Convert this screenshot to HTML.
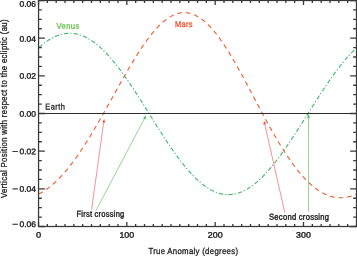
<!DOCTYPE html><html><head><meta charset="utf-8"><style>html,body{margin:0;padding:0;background:#fff;width:357px;height:256px;overflow:hidden}svg{display:block}text{font-family:"Liberation Sans", Arial, sans-serif;paint-order:stroke}</style></head><body>
<svg width="357" height="256" viewBox="0 0 357 256">
<polyline points="38.50,194.02 38.94,193.80 39.38,193.59 39.83,193.37 40.27,193.14 40.71,192.90 41.15,192.67 41.59,192.42 42.03,192.17 42.48,191.92 42.92,191.66 43.36,191.39 43.80,191.12 44.24,190.84 44.68,190.56 45.12,190.27 45.57,189.98 46.01,189.68 46.45,189.37 46.89,189.06 47.33,188.75 47.77,188.43 48.22,188.10 48.66,187.77 49.10,187.43 49.54,187.09 49.98,186.75 50.42,186.39 50.87,186.04 51.31,185.68 51.75,185.31 52.19,184.94 52.63,184.56 53.08,184.17 53.52,183.79 53.96,183.39 54.40,182.99 54.84,182.59 55.28,182.18 55.73,181.77 56.17,181.35 56.61,180.93 57.05,180.50 57.49,180.07 57.93,179.63 58.38,179.19 58.82,178.74 59.26,178.29 59.70,177.83 60.14,177.37 60.58,176.90 61.02,176.43 61.47,175.95 61.91,175.47 62.35,174.98 62.79,174.49 63.23,174.00 63.67,173.50 64.12,172.99 64.56,172.49 65.00,171.97 65.44,171.45 65.88,170.93 66.33,170.41 66.77,169.87 67.21,169.34 67.65,168.80 68.09,168.25 68.53,167.71 68.97,167.15 69.42,166.59 69.86,166.03 70.30,165.47 70.74,164.90 71.18,164.32 71.62,163.75 72.07,163.16 72.51,162.58 72.95,161.99 73.39,161.39 73.83,160.79 74.28,160.19 74.72,159.58 75.16,158.97 75.60,158.36 76.04,157.74 76.48,157.12 76.92,156.50 77.37,155.87 77.81,155.23 78.25,154.60 78.69,153.96 79.13,153.31 79.58,152.67 80.02,152.01 80.46,151.36 80.90,150.70 81.34,150.04 81.78,149.38 82.22,148.71 82.67,148.04 83.11,147.36 83.55,146.69 83.99,146.00 84.43,145.32 84.88,144.63 85.32,143.94 85.76,143.25 86.20,142.55 86.64,141.85 87.08,141.15 87.53,140.45 87.97,139.74 88.41,139.03 88.85,138.31 89.29,137.60 89.73,136.88 90.17,136.16 90.62,135.43 91.06,134.71 91.50,133.98 91.94,133.25 92.38,132.51 92.83,131.78 93.27,131.04 93.71,130.30 94.15,129.55 94.59,128.81 95.03,128.06 95.47,127.31 95.92,126.56 96.36,125.80 96.80,125.05 97.24,124.29 97.68,123.53 98.12,122.77 98.57,122.00 99.01,121.24 99.45,120.47 99.89,119.70 100.33,118.93 100.78,118.16 101.22,117.39 101.66,116.61 102.10,115.84 102.54,115.06 102.98,114.28 103.42,113.50 103.87,112.72 104.31,111.94 104.75,111.15 105.19,110.37 105.63,109.58 106.08,108.80 106.52,108.01 106.96,107.22 107.40,106.43 107.84,105.64 108.28,104.85 108.72,104.06 109.17,103.27 109.61,102.48 110.05,101.69 110.49,100.90 110.93,100.10 111.38,99.31 111.82,98.52 112.26,97.72 112.70,96.93 113.14,96.14 113.58,95.34 114.03,94.55 114.47,93.76 114.91,92.96 115.35,92.17 115.79,91.38 116.23,90.59 116.67,89.79 117.12,89.00 117.56,88.21 118.00,87.42 118.44,86.63 118.88,85.85 119.33,85.06 119.77,84.27 120.21,83.49 120.65,82.70 121.09,81.92 121.53,81.13 121.97,80.35 122.42,79.57 122.86,78.79 123.30,78.02 123.74,77.24 124.18,76.47 124.62,75.69 125.07,74.92 125.51,74.15 125.95,73.39 126.39,72.62 126.83,71.86 127.28,71.09 127.72,70.33 128.16,69.58 128.60,68.82 129.04,68.07 129.48,67.32 129.93,66.57 130.37,65.82 130.81,65.08 131.25,64.34 131.69,63.60 132.13,62.86 132.57,62.13 133.02,61.40 133.46,60.67 133.90,59.95 134.34,59.23 134.78,58.51 135.22,57.80 135.67,57.08 136.11,56.38 136.55,55.67 136.99,54.97 137.43,54.27 137.88,53.58 138.32,52.89 138.76,52.20 139.20,51.52 139.64,50.84 140.08,50.16 140.53,49.49 140.97,48.82 141.41,48.16 141.85,47.50 142.29,46.84 142.73,46.19 143.18,45.55 143.62,44.91 144.06,44.27 144.50,43.64 144.94,43.01 145.38,42.39 145.82,41.77 146.27,41.15 146.71,40.54 147.15,39.94 147.59,39.34 148.03,38.75 148.47,38.16 148.92,37.58 149.36,37.00 149.80,36.43 150.24,35.86 150.68,35.30 151.12,34.74 151.57,34.19 152.01,33.65 152.45,33.11 152.89,32.57 153.33,32.05 153.78,31.52 154.22,31.01 154.66,30.50 155.10,30.00 155.54,29.50 155.98,29.01 156.43,28.52 156.87,28.04 157.31,27.57 157.75,27.10 158.19,26.65 158.63,26.19 159.07,25.75 159.52,25.31 159.96,24.87 160.40,24.45 160.84,24.03 161.28,23.61 161.72,23.21 162.17,22.81 162.61,22.42 163.05,22.03 163.49,21.66 163.93,21.29 164.38,20.92 164.82,20.57 165.26,20.22 165.70,19.88 166.14,19.54 166.58,19.21 167.03,18.90 167.47,18.58 167.91,18.28 168.35,17.98 168.79,17.69 169.23,17.41 169.68,17.14 170.12,16.87 170.56,16.61 171.00,16.36 171.44,16.12 171.88,15.89 172.32,15.66 172.77,15.44 173.21,15.23 173.65,15.03 174.09,14.83 174.53,14.64 174.97,14.47 175.42,14.29 175.86,14.13 176.30,13.98 176.74,13.83 177.18,13.69 177.62,13.56 178.07,13.44 178.51,13.33 178.95,13.22 179.39,13.13 179.83,13.04 180.28,12.96 180.72,12.89 181.16,12.82 181.60,12.77 182.04,12.72 182.48,12.68 182.93,12.65 183.37,12.63 183.81,12.62 184.25,12.61 184.69,12.62 185.13,12.63 185.57,12.65 186.02,12.68 186.46,12.72 186.90,12.76 187.34,12.82 187.78,12.88 188.22,12.95 188.67,13.03 189.11,13.12 189.55,13.22 189.99,13.32 190.43,13.44 190.88,13.56 191.32,13.69 191.76,13.83 192.20,13.98 192.64,14.13 193.08,14.30 193.53,14.47 193.97,14.65 194.41,14.84 194.85,15.04 195.29,15.24 195.73,15.46 196.18,15.68 196.62,15.91 197.06,16.15 197.50,16.40 197.94,16.65 198.38,16.91 198.82,17.18 199.27,17.46 199.71,17.75 200.15,18.05 200.59,18.35 201.03,18.66 201.47,18.98 201.92,19.31 202.36,19.64 202.80,19.99 203.24,20.34 203.68,20.70 204.12,21.06 204.57,21.44 205.01,21.82 205.45,22.21 205.89,22.60 206.33,23.01 206.78,23.42 207.22,23.84 207.66,24.26 208.10,24.70 208.54,25.14 208.98,25.59 209.43,26.04 209.87,26.50 210.31,26.97 210.75,27.45 211.19,27.93 211.63,28.42 212.07,28.92 212.52,29.43 212.96,29.94 213.40,30.46 213.84,30.98 214.28,31.51 214.72,32.05 215.17,32.59 215.61,33.14 216.05,33.70 216.49,34.26 216.93,34.83 217.38,35.41 217.82,35.99 218.26,36.58 218.70,37.17 219.14,37.77 219.58,38.37 220.03,38.99 220.47,39.60 220.91,40.23 221.35,40.85 221.79,41.49 222.23,42.13 222.68,42.77 223.12,43.42 223.56,44.08 224.00,44.74 224.44,45.40 224.88,46.07 225.32,46.75 225.77,47.43 226.21,48.11 226.65,48.80 227.09,49.50 227.53,50.20 227.97,50.90 228.42,51.61 228.86,52.32 229.30,53.04 229.74,53.76 230.18,54.48 230.62,55.21 231.07,55.95 231.51,56.68 231.95,57.42 232.39,58.17 232.83,58.92 233.28,59.67 233.72,60.43 234.16,61.19 234.60,61.95 235.04,62.71 235.48,63.48 235.93,64.26 236.37,65.03 236.81,65.81 237.25,66.59 237.69,67.38 238.13,68.16 238.57,68.95 239.02,69.74 239.46,70.54 239.90,71.34 240.34,72.14 240.78,72.94 241.22,73.74 241.67,74.55 242.11,75.36 242.55,76.17 242.99,76.98 243.43,77.80 243.88,78.61 244.32,79.43 244.76,80.25 245.20,81.07 245.64,81.89 246.08,82.72 246.53,83.54 246.97,84.37 247.41,85.20 247.85,86.03 248.29,86.85 248.73,87.69 249.18,88.52 249.62,89.35 250.06,90.18 250.50,91.02 250.94,91.85 251.38,92.68 251.82,93.52 252.27,94.36 252.71,95.19 253.15,96.03 253.59,96.86 254.03,97.70 254.47,98.54 254.92,99.37 255.36,100.21 255.80,101.04 256.24,101.88 256.68,102.71 257.12,103.55 257.57,104.38 258.01,105.21 258.45,106.05 258.89,106.88 259.33,107.71 259.77,108.54 260.22,109.37 260.66,110.20 261.10,111.03 261.54,111.85 261.98,112.68 262.43,113.50 262.87,114.32 263.31,115.14 263.75,115.96 264.19,116.78 264.63,117.60 265.07,118.41 265.52,119.23 265.96,120.04 266.40,120.85 266.84,121.65 267.28,122.46 267.73,123.26 268.17,124.07 268.61,124.86 269.05,125.66 269.49,126.46 269.93,127.25 270.38,128.04 270.82,128.83 271.26,129.61 271.70,130.40 272.14,131.18 272.58,131.96 273.02,132.73 273.47,133.50 273.91,134.27 274.35,135.04 274.79,135.80 275.23,136.56 275.68,137.32 276.12,138.08 276.56,138.83 277.00,139.58 277.44,140.32 277.88,141.06 278.32,141.80 278.77,142.54 279.21,143.27 279.65,144.00 280.09,144.72 280.53,145.45 280.98,146.16 281.42,146.88 281.86,147.59 282.30,148.30 282.74,149.00 283.18,149.70 283.62,150.40 284.07,151.09 284.51,151.77 284.95,152.46 285.39,153.14 285.83,153.81 286.27,154.49 286.72,155.15 287.16,155.82 287.60,156.48 288.04,157.13 288.48,157.78 288.93,158.43 289.37,159.07 289.81,159.71 290.25,160.34 290.69,160.97 291.13,161.59 291.57,162.21 292.02,162.83 292.46,163.44 292.90,164.05 293.34,164.65 293.78,165.24 294.23,165.84 294.67,166.42 295.11,167.01 295.55,167.58 295.99,168.16 296.43,168.72 296.88,169.29 297.32,169.85 297.76,170.40 298.20,170.95 298.64,171.49 299.08,172.03 299.52,172.56 299.97,173.09 300.41,173.61 300.85,174.13 301.29,174.64 301.73,175.15 302.18,175.65 302.62,176.15 303.06,176.64 303.50,177.13 303.94,177.61 304.38,178.09 304.82,178.56 305.27,179.02 305.71,179.48 306.15,179.94 306.59,180.39 307.03,180.83 307.48,181.27 307.92,181.70 308.36,182.13 308.80,182.55 309.24,182.97 309.68,183.38 310.12,183.78 310.57,184.18 311.01,184.58 311.45,184.97 311.89,185.35 312.33,185.73 312.77,186.10 313.22,186.47 313.66,186.83 314.10,187.18 314.54,187.53 314.98,187.87 315.43,188.21 315.87,188.54 316.31,188.87 316.75,189.19 317.19,189.51 317.63,189.81 318.07,190.12 318.52,190.42 318.96,190.71 319.40,190.99 319.84,191.27 320.28,191.55 320.73,191.82 321.17,192.08 321.61,192.34 322.05,192.59 322.49,192.83 322.93,193.07 323.38,193.30 323.82,193.53 324.26,193.75 324.70,193.97 325.14,194.18 325.58,194.38 326.02,194.58 326.47,194.77 326.91,194.96 327.35,195.14 327.79,195.31 328.23,195.48 328.68,195.65 329.12,195.80 329.56,195.95 330.00,196.10 330.44,196.24 330.88,196.37 331.32,196.50 331.77,196.62 332.21,196.73 332.65,196.84 333.09,196.95 333.53,197.04 333.98,197.14 334.42,197.22 334.86,197.30 335.30,197.37 335.74,197.44 336.18,197.50 336.62,197.56 337.07,197.61 337.51,197.65 337.95,197.69 338.39,197.72 338.83,197.75 339.27,197.77 339.72,197.79 340.16,197.79 340.60,197.80 341.04,197.79 341.48,197.78 341.93,197.77 342.37,197.75 342.81,197.72 343.25,197.69 343.69,197.65 344.13,197.61 344.57,197.56 345.02,197.50 345.46,197.44 345.90,197.37 346.34,197.30 346.78,197.22 347.23,197.13 347.67,197.04 348.11,196.94 348.55,196.84 348.99,196.73 349.43,196.62 349.88,196.50 350.32,196.37 350.76,196.24 351.20,196.11 351.64,195.96 352.08,195.81 352.52,195.66 352.97,195.50 353.41,195.33 353.85,195.16 354.29,194.99 354.73,194.80 355.18,194.61 355.62,194.42 356.06,194.22 356.50,194.02" fill="none" stroke="#ef5a2a" stroke-width="1.1" stroke-dasharray="4.65 3.9" stroke-dashoffset="-0.24"/>
<polyline points="38.50,47.97 38.94,47.57 39.38,47.17 39.83,46.78 40.27,46.40 40.71,46.02 41.15,45.64 41.59,45.27 42.03,44.91 42.48,44.55 42.92,44.20 43.36,43.85 43.80,43.50 44.24,43.17 44.68,42.83 45.12,42.51 45.57,42.18 46.01,41.87 46.45,41.56 46.89,41.25 47.33,40.95 47.77,40.66 48.22,40.37 48.66,40.08 49.10,39.80 49.54,39.53 49.98,39.26 50.42,39.00 50.87,38.75 51.31,38.50 51.75,38.25 52.19,38.01 52.63,37.78 53.08,37.55 53.52,37.33 53.96,37.12 54.40,36.91 54.84,36.70 55.28,36.50 55.73,36.31 56.17,36.12 56.61,35.94 57.05,35.77 57.49,35.60 57.93,35.43 58.38,35.28 58.82,35.12 59.26,34.98 59.70,34.84 60.14,34.70 60.58,34.58 61.02,34.46 61.47,34.34 61.91,34.23 62.35,34.13 62.79,34.03 63.23,33.94 63.67,33.85 64.12,33.77 64.56,33.70 65.00,33.63 65.44,33.57 65.88,33.51 66.33,33.46 66.77,33.42 67.21,33.38 67.65,33.35 68.09,33.32 68.53,33.30 68.97,33.29 69.42,33.28 69.86,33.28 70.30,33.29 70.74,33.30 71.18,33.31 71.62,33.34 72.07,33.37 72.51,33.40 72.95,33.44 73.39,33.49 73.83,33.54 74.28,33.60 74.72,33.67 75.16,33.74 75.60,33.82 76.04,33.90 76.48,33.99 76.92,34.09 77.37,34.19 77.81,34.30 78.25,34.41 78.69,34.53 79.13,34.66 79.58,34.79 80.02,34.93 80.46,35.07 80.90,35.22 81.34,35.38 81.78,35.54 82.22,35.71 82.67,35.88 83.11,36.06 83.55,36.25 83.99,36.44 84.43,36.63 84.88,36.84 85.32,37.05 85.76,37.26 86.20,37.48 86.64,37.71 87.08,37.94 87.53,38.18 87.97,38.42 88.41,38.67 88.85,38.92 89.29,39.18 89.73,39.45 90.17,39.72 90.62,40.00 91.06,40.28 91.50,40.57 91.94,40.87 92.38,41.16 92.83,41.47 93.27,41.78 93.71,42.10 94.15,42.42 94.59,42.75 95.03,43.08 95.47,43.42 95.92,43.76 96.36,44.11 96.80,44.46 97.24,44.82 97.68,45.19 98.12,45.56 98.57,45.93 99.01,46.31 99.45,46.70 99.89,47.09 100.33,47.48 100.78,47.88 101.22,48.29 101.66,48.70 102.10,49.11 102.54,49.53 102.98,49.96 103.42,50.39 103.87,50.82 104.31,51.26 104.75,51.71 105.19,52.16 105.63,52.61 106.08,53.07 106.52,53.53 106.96,54.00 107.40,54.48 107.84,54.95 108.28,55.43 108.72,55.92 109.17,56.41 109.61,56.91 110.05,57.41 110.49,57.91 110.93,58.42 111.38,58.93 111.82,59.45 112.26,59.97 112.70,60.49 113.14,61.02 113.58,61.55 114.03,62.09 114.47,62.63 114.91,63.18 115.35,63.72 115.79,64.28 116.23,64.83 116.67,65.39 117.12,65.96 117.56,66.52 118.00,67.10 118.44,67.67 118.88,68.25 119.33,68.83 119.77,69.42 120.21,70.01 120.65,70.60 121.09,71.19 121.53,71.79 121.97,72.39 122.42,73.00 122.86,73.61 123.30,74.22 123.74,74.83 124.18,75.45 124.62,76.07 125.07,76.70 125.51,77.32 125.95,77.95 126.39,78.58 126.83,79.22 127.28,79.85 127.72,80.49 128.16,81.14 128.60,81.78 129.04,82.43 129.48,83.08 129.93,83.73 130.37,84.39 130.81,85.05 131.25,85.70 131.69,86.37 132.13,87.03 132.57,87.70 133.02,88.36 133.46,89.03 133.90,89.71 134.34,90.38 134.78,91.05 135.22,91.73 135.67,92.41 136.11,93.09 136.55,93.77 136.99,94.46 137.43,95.14 137.88,95.83 138.32,96.52 138.76,97.21 139.20,97.90 139.64,98.59 140.08,99.29 140.53,99.98 140.97,100.68 141.41,101.37 141.85,102.07 142.29,102.77 142.73,103.47 143.18,104.17 143.62,104.87 144.06,105.57 144.50,106.28 144.94,106.98 145.38,107.68 145.82,108.39 146.27,109.09 146.71,109.80 147.15,110.51 147.59,111.21 148.03,111.92 148.47,112.62 148.92,113.33 149.36,114.04 149.80,114.74 150.24,115.45 150.68,116.16 151.12,116.86 151.57,117.57 152.01,118.28 152.45,118.98 152.89,119.69 153.33,120.39 153.78,121.10 154.22,121.80 154.66,122.50 155.10,123.21 155.54,123.91 155.98,124.61 156.43,125.31 156.87,126.01 157.31,126.71 157.75,127.41 158.19,128.10 158.63,128.80 159.07,129.49 159.52,130.19 159.96,130.88 160.40,131.57 160.84,132.26 161.28,132.95 161.72,133.64 162.17,134.32 162.61,135.01 163.05,135.69 163.49,136.37 163.93,137.05 164.38,137.72 164.82,138.40 165.26,139.07 165.70,139.74 166.14,140.41 166.58,141.08 167.03,141.75 167.47,142.41 167.91,143.07 168.35,143.73 168.79,144.39 169.23,145.04 169.68,145.69 170.12,146.34 170.56,146.99 171.00,147.64 171.44,148.28 171.88,148.92 172.32,149.55 172.77,150.19 173.21,150.82 173.65,151.45 174.09,152.07 174.53,152.70 174.97,153.32 175.42,153.93 175.86,154.55 176.30,155.16 176.74,155.76 177.18,156.37 177.62,156.97 178.07,157.57 178.51,158.16 178.95,158.75 179.39,159.34 179.83,159.92 180.28,160.50 180.72,161.08 181.16,161.65 181.60,162.22 182.04,162.79 182.48,163.35 182.93,163.91 183.37,164.46 183.81,165.01 184.25,165.56 184.69,166.10 185.13,166.64 185.57,167.18 186.02,167.71 186.46,168.23 186.90,168.75 187.34,169.27 187.78,169.79 188.22,170.29 188.67,170.80 189.11,171.30 189.55,171.80 189.99,172.29 190.43,172.77 190.88,173.26 191.32,173.74 191.76,174.21 192.20,174.68 192.64,175.14 193.08,175.60 193.53,176.06 193.97,176.51 194.41,176.95 194.85,177.39 195.29,177.83 195.73,178.26 196.18,178.68 196.62,179.10 197.06,179.52 197.50,179.93 197.94,180.33 198.38,180.73 198.82,181.13 199.27,181.52 199.71,181.90 200.15,182.28 200.59,182.65 201.03,183.02 201.47,183.39 201.92,183.74 202.36,184.10 202.80,184.44 203.24,184.79 203.68,185.12 204.12,185.45 204.57,185.78 205.01,186.10 205.45,186.41 205.89,186.72 206.33,187.02 206.78,187.32 207.22,187.61 207.66,187.90 208.10,188.18 208.54,188.45 208.98,188.72 209.43,188.98 209.87,189.24 210.31,189.49 210.75,189.74 211.19,189.98 211.63,190.21 212.07,190.44 212.52,190.66 212.96,190.88 213.40,191.09 213.84,191.29 214.28,191.49 214.72,191.68 215.17,191.87 215.61,192.05 216.05,192.22 216.49,192.39 216.93,192.55 217.38,192.71 217.82,192.86 218.26,193.00 218.70,193.14 219.14,193.27 219.58,193.40 220.03,193.52 220.47,193.63 220.91,193.74 221.35,193.84 221.79,193.93 222.23,194.02 222.68,194.10 223.12,194.18 223.56,194.25 224.00,194.31 224.44,194.37 224.88,194.42 225.32,194.47 225.77,194.51 226.21,194.54 226.65,194.57 227.09,194.59 227.53,194.60 227.97,194.61 228.42,194.61 228.86,194.61 229.30,194.60 229.74,194.58 230.18,194.56 230.62,194.53 231.07,194.49 231.51,194.45 231.95,194.40 232.39,194.35 232.83,194.29 233.28,194.22 233.72,194.15 234.16,194.07 234.60,193.99 235.04,193.90 235.48,193.80 235.93,193.69 236.37,193.59 236.81,193.47 237.25,193.35 237.69,193.22 238.13,193.09 238.57,192.95 239.02,192.80 239.46,192.65 239.90,192.49 240.34,192.33 240.78,192.16 241.22,191.98 241.67,191.80 242.11,191.61 242.55,191.42 242.99,191.22 243.43,191.01 243.88,190.80 244.32,190.58 244.76,190.36 245.20,190.13 245.64,189.89 246.08,189.65 246.53,189.40 246.97,189.15 247.41,188.89 247.85,188.63 248.29,188.36 248.73,188.08 249.18,187.80 249.62,187.52 250.06,187.22 250.50,186.92 250.94,186.62 251.38,186.31 251.82,186.00 252.27,185.68 252.71,185.35 253.15,185.02 253.59,184.68 254.03,184.34 254.47,183.99 254.92,183.64 255.36,183.28 255.80,182.92 256.24,182.55 256.68,182.18 257.12,181.80 257.57,181.41 258.01,181.02 258.45,180.63 258.89,180.23 259.33,179.82 259.77,179.42 260.22,179.00 260.66,178.58 261.10,178.16 261.54,177.73 261.98,177.29 262.43,176.85 262.87,176.41 263.31,175.96 263.75,175.51 264.19,175.05 264.63,174.59 265.07,174.12 265.52,173.65 265.96,173.17 266.40,172.69 266.84,172.21 267.28,171.72 267.73,171.22 268.17,170.72 268.61,170.22 269.05,169.71 269.49,169.20 269.93,168.69 270.38,168.17 270.82,167.64 271.26,167.12 271.70,166.58 272.14,166.05 272.58,165.51 273.02,164.97 273.47,164.42 273.91,163.87 274.35,163.31 274.79,162.75 275.23,162.19 275.68,161.62 276.12,161.05 276.56,160.48 277.00,159.90 277.44,159.32 277.88,158.74 278.32,158.15 278.77,157.56 279.21,156.97 279.65,156.37 280.09,155.77 280.53,155.17 280.98,154.56 281.42,153.95 281.86,153.34 282.30,152.73 282.74,152.11 283.18,151.49 283.62,150.86 284.07,150.24 284.51,149.61 284.95,148.97 285.39,148.34 285.83,147.70 286.27,147.06 286.72,146.42 287.16,145.78 287.60,145.13 288.04,144.48 288.48,143.83 288.93,143.17 289.37,142.52 289.81,141.86 290.25,141.20 290.69,140.54 291.13,139.87 291.57,139.21 292.02,138.54 292.46,137.87 292.90,137.20 293.34,136.52 293.78,135.85 294.23,135.17 294.67,134.49 295.11,133.81 295.55,133.13 295.99,132.45 296.43,131.76 296.88,131.08 297.32,130.39 297.76,129.70 298.20,129.01 298.64,128.32 299.08,127.63 299.52,126.94 299.97,126.25 300.41,125.55 300.85,124.86 301.29,124.16 301.73,123.47 302.18,122.77 302.62,122.07 303.06,121.37 303.50,120.67 303.94,119.97 304.38,119.28 304.82,118.57 305.27,117.87 305.71,117.17 306.15,116.47 306.59,115.77 307.03,115.07 307.48,114.37 307.92,113.67 308.36,112.97 308.80,112.27 309.24,111.57 309.68,110.86 310.12,110.16 310.57,109.46 311.01,108.76 311.45,108.06 311.89,107.37 312.33,106.67 312.77,105.97 313.22,105.27 313.66,104.58 314.10,103.88 314.54,103.19 314.98,102.49 315.43,101.80 315.87,101.11 316.31,100.42 316.75,99.73 317.19,99.04 317.63,98.35 318.07,97.66 318.52,96.98 318.96,96.29 319.40,95.61 319.84,94.93 320.28,94.25 320.73,93.57 321.17,92.89 321.61,92.22 322.05,91.54 322.49,90.87 322.93,90.20 323.38,89.53 323.82,88.87 324.26,88.20 324.70,87.54 325.14,86.88 325.58,86.22 326.02,85.57 326.47,84.91 326.91,84.26 327.35,83.61 327.79,82.96 328.23,82.32 328.68,81.67 329.12,81.03 329.56,80.40 330.00,79.76 330.44,79.13 330.88,78.50 331.32,77.87 331.77,77.25 332.21,76.63 332.65,76.01 333.09,75.39 333.53,74.78 333.98,74.17 334.42,73.56 334.86,72.96 335.30,72.36 335.74,71.76 336.18,71.16 336.62,70.57 337.07,69.98 337.51,69.40 337.95,68.82 338.39,68.24 338.83,67.66 339.27,67.09 339.72,66.53 340.16,65.96 340.60,65.40 341.04,64.84 341.48,64.29 341.93,63.74 342.37,63.20 342.81,62.65 343.25,62.12 343.69,61.58 344.13,61.05 344.57,60.53 345.02,60.01 345.46,59.49 345.90,58.97 346.34,58.46 346.78,57.96 347.23,57.46 347.67,56.96 348.11,56.47 348.55,55.98 348.99,55.49 349.43,55.01 349.88,54.54 350.32,54.07 350.76,53.60 351.20,53.14 351.64,52.68 352.08,52.23 352.52,51.78 352.97,51.34 353.41,50.90 353.85,50.47 354.29,50.04 354.73,49.61 355.18,49.20 355.62,48.78 356.06,48.37 356.50,47.97" fill="none" stroke="#3bb866" stroke-width="1.1" stroke-dasharray="4.3 1.9 1.2 2.2" stroke-dashoffset="-0.88"/>
<line x1="38" y1="113.50" x2="357" y2="113.50" stroke="#2c2c2c" stroke-width="1.1"/>
<line x1="91.60" y1="209.60" x2="103.70" y2="122.47" stroke="#ee4c48" stroke-width="0.6"/>
<polygon points="104.20,118.90 105.19,122.67 102.22,122.26" fill="#ee4c48"/>
<line x1="96.00" y1="210.50" x2="144.32" y2="118.78" stroke="#4cba4c" stroke-width="0.6"/>
<polygon points="146.00,115.60 145.65,119.48 142.99,118.09" fill="#4cba4c"/>
<line x1="284.80" y1="212.60" x2="264.80" y2="124.41" stroke="#ee4c48" stroke-width="0.6"/>
<polygon points="264.00,120.90 266.26,124.08 263.33,124.74" fill="#ee4c48"/>
<line x1="308.50" y1="212.00" x2="308.50" y2="117.70" stroke="#4cba4c" stroke-width="0.6"/>
<polygon points="308.50,114.10 310.00,117.70 307.00,117.70" fill="#4cba4c"/>
<rect x="38.55" y="0.5" width="317.95" height="226" fill="none" stroke="#383838" stroke-width="1.25"/>
<path d="M38.50,226.50v-4.60M38.50,0.50v4.60M47.33,226.50v-2.60M47.33,0.50v2.60M56.17,226.50v-2.60M56.17,0.50v2.60M65.00,226.50v-2.60M65.00,0.50v2.60M73.83,226.50v-2.60M73.83,0.50v2.60M82.67,226.50v-2.60M82.67,0.50v2.60M91.50,226.50v-2.60M91.50,0.50v2.60M100.33,226.50v-2.60M100.33,0.50v2.60M109.17,226.50v-2.60M109.17,0.50v2.60M118.00,226.50v-2.60M118.00,0.50v2.60M126.83,226.50v-4.60M126.83,0.50v4.60M135.67,226.50v-2.60M135.67,0.50v2.60M144.50,226.50v-2.60M144.50,0.50v2.60M153.33,226.50v-2.60M153.33,0.50v2.60M162.17,226.50v-2.60M162.17,0.50v2.60M171.00,226.50v-2.60M171.00,0.50v2.60M179.83,226.50v-2.60M179.83,0.50v2.60M188.67,226.50v-2.60M188.67,0.50v2.60M197.50,226.50v-2.60M197.50,0.50v2.60M206.33,226.50v-2.60M206.33,0.50v2.60M215.17,226.50v-4.60M215.17,0.50v4.60M224.00,226.50v-2.60M224.00,0.50v2.60M232.83,226.50v-2.60M232.83,0.50v2.60M241.67,226.50v-2.60M241.67,0.50v2.60M250.50,226.50v-2.60M250.50,0.50v2.60M259.33,226.50v-2.60M259.33,0.50v2.60M268.17,226.50v-2.60M268.17,0.50v2.60M277.00,226.50v-2.60M277.00,0.50v2.60M285.83,226.50v-2.60M285.83,0.50v2.60M294.67,226.50v-2.60M294.67,0.50v2.60M303.50,226.50v-4.60M303.50,0.50v4.60M312.33,226.50v-2.60M312.33,0.50v2.60M321.17,226.50v-2.60M321.17,0.50v2.60M330.00,226.50v-2.60M330.00,0.50v2.60M338.83,226.50v-2.60M338.83,0.50v2.60M347.67,226.50v-2.60M347.67,0.50v2.60M356.50,226.50v-2.60M356.50,0.50v2.60M38.50,226.50h6.30M356.50,226.50h-6.30M38.50,217.08h3.30M356.50,217.08h-3.30M38.50,207.67h3.30M356.50,207.67h-3.30M38.50,198.25h3.30M356.50,198.25h-3.30M38.50,188.83h6.30M356.50,188.83h-6.30M38.50,179.42h3.30M356.50,179.42h-3.30M38.50,170.00h3.30M356.50,170.00h-3.30M38.50,160.58h3.30M356.50,160.58h-3.30M38.50,151.17h6.30M356.50,151.17h-6.30M38.50,141.75h3.30M356.50,141.75h-3.30M38.50,132.33h3.30M356.50,132.33h-3.30M38.50,122.92h3.30M356.50,122.92h-3.30M38.50,113.50h6.30M356.50,113.50h-6.30M38.50,104.08h3.30M356.50,104.08h-3.30M38.50,94.67h3.30M356.50,94.67h-3.30M38.50,85.25h3.30M356.50,85.25h-3.30M38.50,75.83h6.30M356.50,75.83h-6.30M38.50,66.42h3.30M356.50,66.42h-3.30M38.50,57.00h3.30M356.50,57.00h-3.30M38.50,47.58h3.30M356.50,47.58h-3.30M38.50,38.17h6.30M356.50,38.17h-6.30M38.50,28.75h3.30M356.50,28.75h-3.30M38.50,19.33h3.30M356.50,19.33h-3.30M38.50,9.92h3.30M356.50,9.92h-3.30M38.50,0.50h6.30M356.50,0.50h-6.30" stroke="#383838" stroke-width="1.3" fill="none"/>
<text transform="translate(38.50,237.70) rotate(0.05)" text-anchor="middle" textLength="5.14" lengthAdjust="spacingAndGlyphs" font-size="8.10" fill="#222" stroke="#222" stroke-width="0.38">0</text>
<text transform="translate(126.83,237.70) rotate(0.05)" text-anchor="middle" textLength="14.81" lengthAdjust="spacingAndGlyphs" font-size="8.10" fill="#222" stroke="#222" stroke-width="0.38">100</text>
<text transform="translate(215.17,237.70) rotate(0.05)" text-anchor="middle" textLength="14.81" lengthAdjust="spacingAndGlyphs" font-size="8.10" fill="#222" stroke="#222" stroke-width="0.38">200</text>
<text transform="translate(303.50,237.70) rotate(0.05)" text-anchor="middle" textLength="14.81" lengthAdjust="spacingAndGlyphs" font-size="8.10" fill="#222" stroke="#222" stroke-width="0.38">300</text>
<text transform="translate(36.00,6.70) rotate(0.05)" text-anchor="end" textLength="16.54" lengthAdjust="spacingAndGlyphs" font-size="8.10" fill="#222" stroke="#222" stroke-width="0.38">0.06</text>
<text transform="translate(36.00,41.65) rotate(0.05)" text-anchor="end" textLength="16.54" lengthAdjust="spacingAndGlyphs" font-size="8.10" fill="#222" stroke="#222" stroke-width="0.38">0.04</text>
<text transform="translate(36.00,78.75) rotate(0.05)" text-anchor="end" textLength="16.54" lengthAdjust="spacingAndGlyphs" font-size="8.10" fill="#222" stroke="#222" stroke-width="0.38">0.02</text>
<text transform="translate(36.00,116.75) rotate(0.05)" text-anchor="end" textLength="16.54" lengthAdjust="spacingAndGlyphs" font-size="8.10" fill="#222" stroke="#222" stroke-width="0.38">0.00</text>
<text transform="translate(36.00,154.20) rotate(0.05)" text-anchor="end" textLength="16.54" lengthAdjust="spacingAndGlyphs" font-size="8.10" fill="#222" stroke="#222" stroke-width="0.38">0.02</text>
<text transform="translate(15.25,154.20) rotate(0.05)" text-anchor="middle" textLength="5.80" lengthAdjust="spacingAndGlyphs" font-size="8.10" fill="#222" stroke="#222" stroke-width="0.38">−</text>
<text transform="translate(36.00,191.70) rotate(0.05)" text-anchor="end" textLength="16.54" lengthAdjust="spacingAndGlyphs" font-size="8.10" fill="#222" stroke="#222" stroke-width="0.38">0.04</text>
<text transform="translate(15.25,191.70) rotate(0.05)" text-anchor="middle" textLength="5.80" lengthAdjust="spacingAndGlyphs" font-size="8.10" fill="#222" stroke="#222" stroke-width="0.38">−</text>
<text transform="translate(36.00,227.10) rotate(0.05)" text-anchor="end" textLength="16.54" lengthAdjust="spacingAndGlyphs" font-size="8.10" fill="#222" stroke="#222" stroke-width="0.38">0.06</text>
<text transform="translate(15.25,227.10) rotate(0.05)" text-anchor="middle" textLength="5.80" lengthAdjust="spacingAndGlyphs" font-size="8.10" fill="#222" stroke="#222" stroke-width="0.38">−</text>
<text transform="translate(148.40,254.00) scale(0.900,1) rotate(0.05)" textLength="99.56" lengthAdjust="spacing" font-size="8.70" fill="#222" stroke="#222" stroke-width="0.30">True Anomaly (degrees)</text>
<text transform="translate(6.5,198) rotate(-90) scale(0.9,1)" textLength="198.44" lengthAdjust="spacing" font-size="8.60" fill="#222" stroke="#222" stroke-width="0.30">Vertical Position with respect to the ecliptic (au)</text>
<text transform="translate(56.40,28.85) scale(0.920,1) rotate(0.05)" textLength="24.89" lengthAdjust="spacing" font-size="8.30" fill="#66c24c" stroke="#66c24c" stroke-width="0.30">Venus</text>
<text transform="translate(174.90,27.00) scale(0.880,1) rotate(0.05)" textLength="20.00" lengthAdjust="spacing" font-size="8.50" fill="#ef4f2a" stroke="#ef4f2a" stroke-width="0.30">Mars</text>
<text transform="translate(45.30,109.50) scale(0.880,1) rotate(0.05)" textLength="22.27" lengthAdjust="spacing" font-size="8.50" fill="#222" stroke="#222" stroke-width="0.30">Earth</text>
<text transform="translate(76.40,216.80) scale(0.880,1) rotate(0.05)" textLength="54.43" lengthAdjust="spacing" font-size="8.60" fill="#222" stroke="#222" stroke-width="0.38">First crossing</text>
<text transform="translate(269.00,219.70) scale(0.880,1) rotate(0.05)" textLength="68.18" lengthAdjust="spacing" font-size="8.70" fill="#222" stroke="#222" stroke-width="0.40">Second crossing</text>
</svg></body></html>
